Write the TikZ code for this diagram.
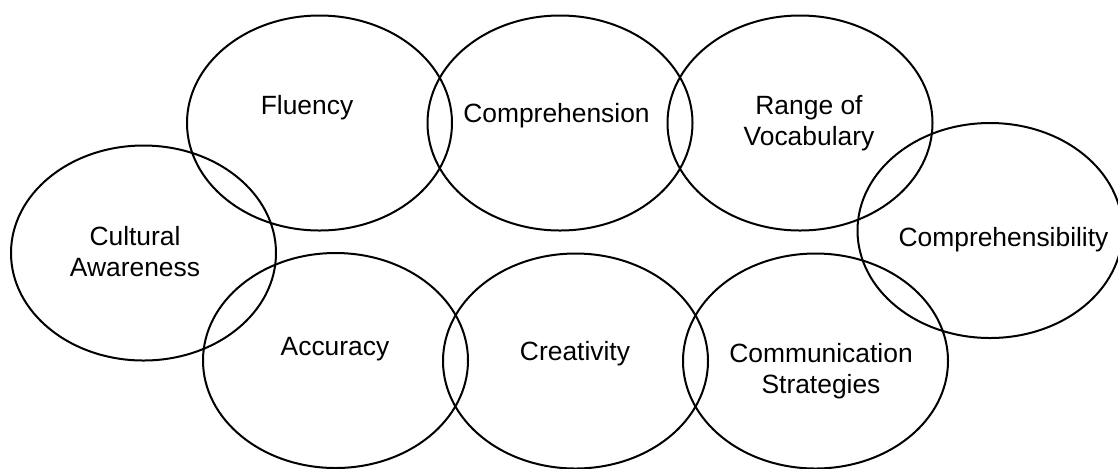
\documentclass[tikz,border=0pt]{standalone}
\usepackage{fontspec}
\newfontfamily\skillfont{Liberation Sans}
\usetikzlibrary{shapes.geometric, positioning}
\tikzset{skill/.style = {ellipse, draw=black, line width=1pt, minimum width=132.5pt, minimum height=107.5pt, inner sep=0pt}}
\tikzset{skilltext/.style = {font=\skillfont\fontsize{13.2}{15.5}\selectfont, align=center, anchor=base, inner sep=0pt}}

\begin{document}
\begin{tikzpicture}[x=0.5pt, y=-0.5pt]
\useasboundingbox (0,0) rectangle (1118,468);
\node [skill] (fluency) at (319.5,123) {};
\node [skill] (comprehension) at (560,123) {};
\node [skill] (vocabulary) at (800,123) {};
\node [skill] (comprehensibility) at (990,230.5) {};
\node [skill] (cultural) at (143.5,253) {};
\node [skill] (accuracy) at (335.5,360.5) {};
\node [skill] (creativity) at (575.5,361) {};
\node [skill] (strategies) at (815.5,361) {};

\node [skilltext] (fluencytext) at (307,114) {Fluency};
\node [skilltext] (comprehensiontext) at (556.5,122) {Comprehension};
\node [skilltext] (vocabularytext) at (809,145) {Range of\\Vocabulary};
\node [skilltext] (comprehensibilitytext) at (1003.5,246.5) {Comprehensibility};
\node [skilltext] (culturaltext) at (135,276) {Cultural\\Awareness};
\node [skilltext] (accuracytext) at (335,355.5) {Accuracy};
\node [skilltext] (creativitytext) at (575,360.5) {Creativity};
\node [skilltext] (strategiestext) at (821,393) {Communication\\Strategies};
\end{tikzpicture}
\end{document}
